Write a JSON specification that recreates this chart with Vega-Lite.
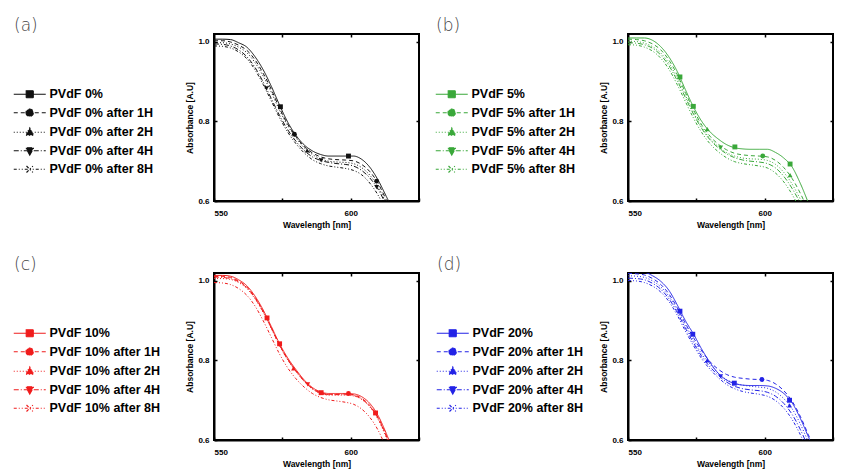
{
  "$schema": "https://vega.github.io/schema/vega-lite/v6.json",
  "padding": {"left": 13, "top": 16, "right": 4, "bottom": 4},
  "background": "white",
  "columns": 2,
  "spacing": {"row": 25, "column": 14},
  "datasets": {
    "a": [
      {"x":550,"0%":1.007,"1H":1.003,"2H":0.998,"4H":0.995,"8H":0.990},
      {"x":553,"0%":1.007,"1H":1.003,"2H":0.998,"4H":0.994,"8H":0.989},
      {"x":556,"0%":1.006,"1H":1.000,"2H":0.995,"4H":0.990,"8H":0.985},
      {"x":559,"0%":0.998,"1H":0.992,"2H":0.987,"4H":0.980,"8H":0.975},
      {"x":562,"0%":0.987,"1H":0.979,"2H":0.973,"4H":0.963,"8H":0.958},
      {"x":565,"0%":0.963,"1H":0.955,"2H":0.948,"4H":0.936,"8H":0.930},
      {"x":568,"0%":0.930,"1H":0.921,"2H":0.914,"4H":0.899,"8H":0.893},
      {"x":571,"0%":0.888,"1H":0.880,"2H":0.873,"4H":0.857,"8H":0.851},
      {"x":574,"0%":0.841,"1H":0.833,"2H":0.828,"4H":0.815,"8H":0.809},
      {"x":577,"0%":0.798,"1H":0.793,"2H":0.789,"4H":0.779,"8H":0.773},
      {"x":580,"0%":0.765,"1H":0.762,"2H":0.759,"4H":0.750,"8H":0.744},
      {"x":583,"0%":0.741,"1H":0.737,"2H":0.734,"4H":0.727,"8H":0.721},
      {"x":586,"0%":0.726,"1H":0.721,"2H":0.717,"4H":0.711,"8H":0.704},
      {"x":589,"0%":0.717,"1H":0.711,"2H":0.706,"4H":0.702,"8H":0.694},
      {"x":592,"0%":0.713,"1H":0.706,"2H":0.700,"4H":0.697,"8H":0.688},
      {"x":595,"0%":0.713,"1H":0.704,"2H":0.698,"4H":0.694,"8H":0.685},
      {"x":598,"0%":0.713,"1H":0.703,"2H":0.697,"4H":0.692,"8H":0.682},
      {"x":601,"0%":0.713,"1H":0.701,"2H":0.694,"4H":0.688,"8H":0.677},
      {"x":604,"0%":0.705,"1H":0.692,"2H":0.684,"4H":0.677,"8H":0.666},
      {"x":607,"0%":0.685,"1H":0.674,"2H":0.665,"4H":0.658,"8H":0.645},
      {"x":610,"0%":0.653,"1H":0.645,"2H":0.636,"4H":0.630,"8H":0.615},
      {"x":613,"0%":0.612,"1H":0.603,"2H":0.595,"4H":0.590,"8H":0.575},
      {"x":616,"0%":0.570,"1H":0.560,"2H":0.550,"4H":0.545,"8H":0.530}
    ],
    "am": [
      {"x":569.2,"y":0.883,"k":"4H"},
      {"x":574.3,"y":0.837,"k":"0%"},
      {"x":579.4,"y":0.768,"k":"1H"},
      {"x":584.1,"y":0.727,"k":"2H"},
      {"x":589.2,"y":0.702,"k":"4H"},
      {"x":599.2,"y":0.713,"k":"0%"},
      {"x":609.5,"y":0.650,"k":"1H"},
      {"x":609.5,"y":0.635,"k":"4H"}
    ],
    "b": [
      {"x":550,"0%":1.010,"1H":1.007,"2H":1.002,"4H":0.998,"8H":0.993},
      {"x":553,"0%":1.010,"1H":1.006,"2H":1.001,"4H":0.997,"8H":0.992},
      {"x":556,"0%":1.010,"1H":1.003,"2H":0.997,"4H":0.993,"8H":0.987},
      {"x":559,"0%":1.004,"1H":0.995,"2H":0.988,"4H":0.984,"8H":0.977},
      {"x":562,"0%":0.988,"1H":0.980,"2H":0.972,"4H":0.967,"8H":0.959},
      {"x":565,"0%":0.962,"1H":0.954,"2H":0.946,"4H":0.940,"8H":0.931},
      {"x":568,"0%":0.926,"1H":0.918,"2H":0.910,"4H":0.903,"8H":0.893},
      {"x":571,"0%":0.880,"1H":0.873,"2H":0.866,"4H":0.860,"8H":0.850},
      {"x":574,"0%":0.836,"1H":0.829,"2H":0.822,"4H":0.818,"8H":0.808},
      {"x":577,"0%":0.800,"1H":0.791,"2H":0.785,"4H":0.782,"8H":0.772},
      {"x":580,"0%":0.774,"1H":0.763,"2H":0.757,"4H":0.754,"8H":0.744},
      {"x":583,"0%":0.756,"1H":0.743,"2H":0.737,"4H":0.734,"8H":0.724},
      {"x":586,"0%":0.742,"1H":0.729,"2H":0.722,"4H":0.719,"8H":0.709},
      {"x":589,"0%":0.734,"1H":0.720,"2H":0.713,"4H":0.709,"8H":0.699},
      {"x":592,"0%":0.731,"1H":0.716,"2H":0.708,"4H":0.703,"8H":0.694},
      {"x":595,"0%":0.730,"1H":0.714,"2H":0.706,"4H":0.700,"8H":0.691},
      {"x":598,"0%":0.730,"1H":0.713,"2H":0.705,"4H":0.698,"8H":0.688},
      {"x":601,"0%":0.730,"1H":0.711,"2H":0.702,"4H":0.694,"8H":0.683},
      {"x":604,"0%":0.722,"1H":0.702,"2H":0.692,"4H":0.683,"8H":0.670},
      {"x":607,"0%":0.708,"1H":0.684,"2H":0.672,"4H":0.662,"8H":0.648},
      {"x":610,"0%":0.686,"1H":0.657,"2H":0.643,"4H":0.632,"8H":0.617},
      {"x":613,"0%":0.645,"1H":0.620,"2H":0.605,"4H":0.595,"8H":0.578},
      {"x":616,"0%":0.595,"1H":0.575,"2H":0.560,"4H":0.550,"8H":0.535}
    ],
    "bm": [
      {"x":569.0,"y":0.912,"k":"0%"},
      {"x":573.9,"y":0.838,"k":"0%"},
      {"x":579.0,"y":0.781,"k":"2H"},
      {"x":583.9,"y":0.734,"k":"4H"},
      {"x":589.1,"y":0.736,"k":"0%"},
      {"x":599.3,"y":0.713,"k":"1H"},
      {"x":609.3,"y":0.693,"k":"0%"},
      {"x":609.3,"y":0.665,"k":"2H"}
    ],
    "c": [
      {"x":550,"0%":1.014,"1H":1.011,"2H":1.006,"4H":1.010,"8H":0.996},
      {"x":553,"0%":1.014,"1H":1.011,"2H":1.006,"4H":1.009,"8H":0.995},
      {"x":556,"0%":1.012,"1H":1.009,"2H":1.004,"4H":1.006,"8H":0.991},
      {"x":559,"0%":1.003,"1H":1.000,"2H":0.996,"4H":0.998,"8H":0.981},
      {"x":562,"0%":0.988,"1H":0.985,"2H":0.981,"4H":0.983,"8H":0.964},
      {"x":565,"0%":0.962,"1H":0.959,"2H":0.955,"4H":0.957,"8H":0.937},
      {"x":568,"0%":0.927,"1H":0.924,"2H":0.921,"4H":0.922,"8H":0.900},
      {"x":571,"0%":0.885,"1H":0.882,"2H":0.880,"4H":0.881,"8H":0.858},
      {"x":574,"0%":0.842,"1H":0.839,"2H":0.837,"4H":0.838,"8H":0.816},
      {"x":577,"0%":0.806,"1H":0.803,"2H":0.801,"4H":0.802,"8H":0.781},
      {"x":580,"0%":0.777,"1H":0.774,"2H":0.772,"4H":0.773,"8H":0.754},
      {"x":583,"0%":0.751,"1H":0.749,"2H":0.747,"4H":0.748,"8H":0.733},
      {"x":586,"0%":0.732,"1H":0.730,"2H":0.728,"4H":0.729,"8H":0.717},
      {"x":589,"0%":0.721,"1H":0.719,"2H":0.717,"4H":0.718,"8H":0.707},
      {"x":592,"0%":0.717,"1H":0.715,"2H":0.713,"4H":0.714,"8H":0.701},
      {"x":595,"0%":0.717,"1H":0.715,"2H":0.713,"4H":0.714,"8H":0.698},
      {"x":598,"0%":0.717,"1H":0.716,"2H":0.713,"4H":0.714,"8H":0.695},
      {"x":601,"0%":0.716,"1H":0.714,"2H":0.711,"4H":0.712,"8H":0.690},
      {"x":604,"0%":0.709,"1H":0.705,"2H":0.702,"4H":0.703,"8H":0.678},
      {"x":607,"0%":0.692,"1H":0.687,"2H":0.683,"4H":0.685,"8H":0.657},
      {"x":610,"0%":0.662,"1H":0.657,"2H":0.652,"4H":0.655,"8H":0.625},
      {"x":613,"0%":0.617,"1H":0.612,"2H":0.607,"4H":0.610,"8H":0.580},
      {"x":616,"0%":0.565,"1H":0.560,"2H":0.555,"4H":0.558,"8H":0.530}
    ],
    "cm": [
      {"x":569.4,"y":0.907,"k":"0%"},
      {"x":574.0,"y":0.842,"k":"0%"},
      {"x":579.1,"y":0.780,"k":"2H"},
      {"x":584.3,"y":0.740,"k":"4H"},
      {"x":589.2,"y":0.719,"k":"0%"},
      {"x":599.2,"y":0.717,"k":"1H"},
      {"x":609.1,"y":0.668,"k":"0%"}
    ],
    "d": [
      {"x":550,"0%":1.024,"1H":1.019,"2H":1.013,"4H":1.007,"8H":1.001},
      {"x":553,"0%":1.024,"1H":1.018,"2H":1.012,"4H":1.006,"8H":1.000},
      {"x":556,"0%":1.022,"1H":1.015,"2H":1.009,"4H":1.003,"8H":0.996},
      {"x":559,"0%":1.013,"1H":1.006,"2H":1.000,"4H":0.994,"8H":0.987},
      {"x":562,"0%":0.999,"1H":0.991,"2H":0.985,"4H":0.979,"8H":0.972},
      {"x":565,"0%":0.976,"1H":0.967,"2H":0.961,"4H":0.955,"8H":0.948},
      {"x":568,"0%":0.940,"1H":0.933,"2H":0.927,"4H":0.921,"8H":0.914},
      {"x":571,"0%":0.900,"1H":0.893,"2H":0.887,"4H":0.881,"8H":0.874},
      {"x":574,"0%":0.866,"1H":0.857,"2H":0.850,"4H":0.844,"8H":0.837},
      {"x":577,"0%":0.828,"1H":0.824,"2H":0.816,"4H":0.810,"8H":0.804},
      {"x":580,"0%":0.795,"1H":0.797,"2H":0.791,"4H":0.784,"8H":0.778},
      {"x":583,"0%":0.768,"1H":0.778,"2H":0.768,"4H":0.763,"8H":0.757},
      {"x":586,"0%":0.751,"1H":0.765,"2H":0.752,"4H":0.746,"8H":0.740},
      {"x":589,"0%":0.742,"1H":0.758,"2H":0.743,"4H":0.735,"8H":0.729},
      {"x":592,"0%":0.738,"1H":0.755,"2H":0.738,"4H":0.729,"8H":0.722},
      {"x":595,"0%":0.737,"1H":0.753,"2H":0.735,"4H":0.726,"8H":0.718},
      {"x":598,"0%":0.737,"1H":0.752,"2H":0.733,"4H":0.724,"8H":0.715},
      {"x":601,"0%":0.736,"1H":0.750,"2H":0.730,"4H":0.720,"8H":0.710},
      {"x":604,"0%":0.730,"1H":0.741,"2H":0.721,"4H":0.710,"8H":0.699},
      {"x":607,"0%":0.717,"1H":0.724,"2H":0.704,"4H":0.692,"8H":0.680},
      {"x":610,"0%":0.694,"1H":0.698,"2H":0.679,"4H":0.665,"8H":0.652},
      {"x":613,"0%":0.655,"1H":0.660,"2H":0.641,"4H":0.627,"8H":0.614},
      {"x":616,"0%":0.608,"1H":0.613,"2H":0.595,"4H":0.581,"8H":0.568},
      {"x":619,"0%":0.560,"1H":0.565,"2H":0.550,"4H":0.535,"8H":0.520}
    ],
    "dm": [
      {"x":569.0,"y":0.924,"k":"0%"},
      {"x":573.7,"y":0.866,"k":"0%"},
      {"x":579.0,"y":0.800,"k":"2H"},
      {"x":583.9,"y":0.760,"k":"4H"},
      {"x":588.9,"y":0.743,"k":"0%"},
      {"x":599.0,"y":0.752,"k":"1H"},
      {"x":609.1,"y":0.700,"k":"0%"},
      {"x":609.1,"y":0.687,"k":"2H"}
    ]
  },
  "concat": [
    {
      "title": {"text": "(a)"},
      "width": 205, "height": 167,
      "layer": [
        {"data": {"name": "a"},
         "transform": [{"fold": ["0%","1H","2H","4H","8H"], "as": ["k","y"]}],
         "mark": {"type": "line", "clip": true, "strokeWidth": 1, "color": "#111", "interpolate": "monotone"},
         "encoding": {
           "x": {"field": "x", "type": "quantitative", "scale": {"domain": [550,625]}, "axis": {"values": [550,575,600,625], "labelExpr": "datum.value % 50 == 0 ? datum.label : ''", "title": "Wavelength [nm]"}},
           "y": {"field": "y", "type": "quantitative", "scale": {"domain": [0.6,1.02]}, "axis": {"values": [0.6,0.8,1.0], "format": ".1f", "title": "Absorbance [A.U]"}},
           "strokeDash": {"field": "k", "type": "nominal", "scale": {"domain": ["0%","1H","2H","4H","8H"], "range": [[1,0],[4,3],[1,2],[5,2,1,2],[3,2,1,2,1,2]]}, "legend": null}
         }},
        {"data": {"name": "am"},
         "mark": {"type": "point", "filled": true, "color": "#111", "size": 24, "opacity": 1, "clip": true},
         "encoding": {
           "x": {"field": "x", "type": "quantitative", "scale": {"domain": [550,625]}, "axis": {"orient": "top", "values": [575,600], "labels": false, "title": null, "domain": false}},
           "y": {"field": "y", "type": "quantitative", "scale": {"domain": [0.6,1.02]}, "axis": {"orient": "right", "values": [0.8,1.0], "labels": false, "title": null, "domain": false}},
           "shape": {"field": "k", "type": "nominal", "scale": {"domain": ["0%","1H","2H","4H","8H"], "range": ["square","circle","triangle-up","triangle-down","cross"]}, "legend": null}
         }},
        {"data": {"name": "am"},
         "mark": {"type": "point", "filled": false, "color": "#111", "fill": "#111", "strokeWidth": 1.2, "opacity": 0},
         "encoding": {
           "x": {"field": "x", "type": "quantitative", "scale": {"domain": [550,625]}, "axis": null},
           "y": {"field": "y", "type": "quantitative", "scale": {"domain": [0.6,1.02]}, "axis": null},
           "shape": {"field": "k", "type": "nominal", "scale": {"domain": ["0%","1H","2H","4H","8H"], "range": ["M-3.2,0H3.2M-0.7,-0.7H0.7V0.7H-0.7Z","M-3.2,0H3.2M-0.75,0A0.75,0.75 0 1,0 0.75,0A0.75,0.75 0 1,0 -0.75,0Z","M-3.2,0H3.2M0,-0.85L0.8,0.6H-0.8Z","M-3.2,0H3.2M0,0.85L0.8,-0.6H-0.8Z","M-3.2,0H3.2M-0.65,-0.65L0.65,0.65M-0.65,0.65L0.65,-0.65"]},
             "legend": {"title": " ", "orient": "left", "offset": 31, "encode": {"symbols": {"stroke": {"value": "#111"}, "fill": {"value": "#111"}, "strokeWidth": {"value": 1.2}}}, "labelExpr": "datum.label == '0%' ? 'PVdF 0%' : 'PVdF 0% after ' + datum.label"}},
           "strokeDash": {"field": "k", "type": "nominal", "scale": {"domain": ["0%","1H","2H","4H","8H"], "range": [[1,0],[4,3],[1,2],[5,2,1,2],[3,2,1,2,1,2]]},
             "legend": {"title": " ", "orient": "left", "offset": 31, "encode": {"symbols": {"stroke": {"value": "#111"}, "fill": {"value": "#111"}, "strokeWidth": {"value": 1.2}}}, "labelExpr": "datum.label == '0%' ? 'PVdF 0%' : 'PVdF 0% after ' + datum.label"}}
         }}
      ],
      "resolve": {"scale": {"shape": "independent", "strokeDash": "independent"}, "axis": {"x": "independent", "y": "independent"}}
    },
    {
      "title": {"text": "(b)"},
      "width": 205, "height": 167,
      "layer": [
        {"data": {"name": "b"},
         "transform": [{"fold": ["0%","1H","2H","4H","8H"], "as": ["k","y"]}],
         "mark": {"type": "line", "clip": true, "strokeWidth": 1, "color": "#3aa83a", "interpolate": "monotone"},
         "encoding": {
           "x": {"field": "x", "type": "quantitative", "scale": {"domain": [550,625]}, "axis": {"values": [550,575,600,625], "labelExpr": "datum.value % 50 == 0 ? datum.label : ''", "title": "Wavelength [nm]"}},
           "y": {"field": "y", "type": "quantitative", "scale": {"domain": [0.6,1.02]}, "axis": {"values": [0.6,0.8,1.0], "format": ".1f", "title": "Absorbance [A.U]"}},
           "strokeDash": {"field": "k", "type": "nominal", "scale": {"domain": ["0%","1H","2H","4H","8H"], "range": [[1,0],[4,3],[1,2],[5,2,1,2],[3,2,1,2,1,2]]}, "legend": null}
         }},
        {"data": {"name": "bm"},
         "mark": {"type": "point", "filled": true, "color": "#3aa83a", "size": 24, "opacity": 1, "clip": true},
         "encoding": {
           "x": {"field": "x", "type": "quantitative", "scale": {"domain": [550,625]}, "axis": {"orient": "top", "values": [575,600], "labels": false, "title": null, "domain": false}},
           "y": {"field": "y", "type": "quantitative", "scale": {"domain": [0.6,1.02]}, "axis": {"orient": "right", "values": [0.8,1.0], "labels": false, "title": null, "domain": false}},
           "shape": {"field": "k", "type": "nominal", "scale": {"domain": ["0%","1H","2H","4H","8H"], "range": ["square","circle","triangle-up","triangle-down","cross"]}, "legend": null}
         }},
        {"data": {"name": "bm"},
         "mark": {"type": "point", "filled": false, "color": "#3aa83a", "fill": "#3aa83a", "strokeWidth": 1.2, "opacity": 0},
         "encoding": {
           "x": {"field": "x", "type": "quantitative", "scale": {"domain": [550,625]}, "axis": null},
           "y": {"field": "y", "type": "quantitative", "scale": {"domain": [0.6,1.02]}, "axis": null},
           "shape": {"field": "k", "type": "nominal", "scale": {"domain": ["0%","1H","2H","4H","8H"], "range": ["M-3.2,0H3.2M-0.7,-0.7H0.7V0.7H-0.7Z","M-3.2,0H3.2M-0.75,0A0.75,0.75 0 1,0 0.75,0A0.75,0.75 0 1,0 -0.75,0Z","M-3.2,0H3.2M0,-0.85L0.8,0.6H-0.8Z","M-3.2,0H3.2M0,0.85L0.8,-0.6H-0.8Z","M-3.2,0H3.2M-0.65,-0.65L0.65,0.65M-0.65,0.65L0.65,-0.65"]},
             "legend": {"title": " ", "orient": "left", "offset": 23, "encode": {"symbols": {"stroke": {"value": "#3aa83a"}, "fill": {"value": "#3aa83a"}, "strokeWidth": {"value": 1.2}}}, "labelExpr": "datum.label == '0%' ? 'PVdF 5%' : 'PVdF 5% after ' + datum.label"}},
           "strokeDash": {"field": "k", "type": "nominal", "scale": {"domain": ["0%","1H","2H","4H","8H"], "range": [[1,0],[4,3],[1,2],[5,2,1,2],[3,2,1,2,1,2]]},
             "legend": {"title": " ", "orient": "left", "offset": 23, "encode": {"symbols": {"stroke": {"value": "#3aa83a"}, "fill": {"value": "#3aa83a"}, "strokeWidth": {"value": 1.2}}}, "labelExpr": "datum.label == '0%' ? 'PVdF 5%' : 'PVdF 5% after ' + datum.label"}}
         }}
      ],
      "resolve": {"scale": {"shape": "independent", "strokeDash": "independent"}, "axis": {"x": "independent", "y": "independent"}}
    },
    {
      "title": {"text": "(c)"},
      "width": 205, "height": 167,
      "layer": [
        {"data": {"name": "c"},
         "transform": [{"fold": ["0%","1H","2H","4H","8H"], "as": ["k","y"]}],
         "mark": {"type": "line", "clip": true, "strokeWidth": 1, "color": "#f01c1c", "interpolate": "monotone"},
         "encoding": {
           "x": {"field": "x", "type": "quantitative", "scale": {"domain": [550,625]}, "axis": {"values": [550,575,600,625], "labelExpr": "datum.value % 50 == 0 ? datum.label : ''", "title": "Wavelength [nm]"}},
           "y": {"field": "y", "type": "quantitative", "scale": {"domain": [0.6,1.02]}, "axis": {"values": [0.6,0.8,1.0], "format": ".1f", "title": "Absorbance [A.U]"}},
           "strokeDash": {"field": "k", "type": "nominal", "scale": {"domain": ["0%","1H","2H","4H","8H"], "range": [[1,0],[4,3],[1,2],[5,2,1,2],[3,2,1,2,1,2]]}, "legend": null}
         }},
        {"data": {"name": "cm"},
         "mark": {"type": "point", "filled": true, "color": "#f01c1c", "size": 24, "opacity": 1, "clip": true},
         "encoding": {
           "x": {"field": "x", "type": "quantitative", "scale": {"domain": [550,625]}, "axis": {"orient": "top", "values": [575,600], "labels": false, "title": null, "domain": false}},
           "y": {"field": "y", "type": "quantitative", "scale": {"domain": [0.6,1.02]}, "axis": {"orient": "right", "values": [0.8,1.0], "labels": false, "title": null, "domain": false}},
           "shape": {"field": "k", "type": "nominal", "scale": {"domain": ["0%","1H","2H","4H","8H"], "range": ["square","circle","triangle-up","triangle-down","cross"]}, "legend": null}
         }},
        {"data": {"name": "cm"},
         "mark": {"type": "point", "filled": false, "color": "#f01c1c", "fill": "#f01c1c", "strokeWidth": 1.2, "opacity": 0},
         "encoding": {
           "x": {"field": "x", "type": "quantitative", "scale": {"domain": [550,625]}, "axis": null},
           "y": {"field": "y", "type": "quantitative", "scale": {"domain": [0.6,1.02]}, "axis": null},
           "shape": {"field": "k", "type": "nominal", "scale": {"domain": ["0%","1H","2H","4H","8H"], "range": ["M-3.2,0H3.2M-0.7,-0.7H0.7V0.7H-0.7Z","M-3.2,0H3.2M-0.75,0A0.75,0.75 0 1,0 0.75,0A0.75,0.75 0 1,0 -0.75,0Z","M-3.2,0H3.2M0,-0.85L0.8,0.6H-0.8Z","M-3.2,0H3.2M0,0.85L0.8,-0.6H-0.8Z","M-3.2,0H3.2M-0.65,-0.65L0.65,0.65M-0.65,0.65L0.65,-0.65"]},
             "legend": {"title": " ", "orient": "left", "offset": 25, "encode": {"symbols": {"stroke": {"value": "#f01c1c"}, "fill": {"value": "#f01c1c"}, "strokeWidth": {"value": 1.2}}}, "labelExpr": "datum.label == '0%' ? 'PVdF 10%' : 'PVdF 10% after ' + datum.label"}},
           "strokeDash": {"field": "k", "type": "nominal", "scale": {"domain": ["0%","1H","2H","4H","8H"], "range": [[1,0],[4,3],[1,2],[5,2,1,2],[3,2,1,2,1,2]]},
             "legend": {"title": " ", "orient": "left", "offset": 25, "encode": {"symbols": {"stroke": {"value": "#f01c1c"}, "fill": {"value": "#f01c1c"}, "strokeWidth": {"value": 1.2}}}, "labelExpr": "datum.label == '0%' ? 'PVdF 10%' : 'PVdF 10% after ' + datum.label"}}
         }}
      ],
      "resolve": {"scale": {"shape": "independent", "strokeDash": "independent"}, "axis": {"x": "independent", "y": "independent"}}
    },
    {
      "title": {"text": "(d)"},
      "width": 205, "height": 167,
      "layer": [
        {"data": {"name": "d"},
         "transform": [{"fold": ["0%","1H","2H","4H","8H"], "as": ["k","y"]}],
         "mark": {"type": "line", "clip": true, "strokeWidth": 1, "color": "#2323e6", "interpolate": "monotone"},
         "encoding": {
           "x": {"field": "x", "type": "quantitative", "scale": {"domain": [550,625]}, "axis": {"values": [550,575,600,625], "labelExpr": "datum.value % 50 == 0 ? datum.label : ''", "title": "Wavelength [nm]"}},
           "y": {"field": "y", "type": "quantitative", "scale": {"domain": [0.6,1.02]}, "axis": {"values": [0.6,0.8,1.0], "format": ".1f", "title": "Absorbance [A.U]"}},
           "strokeDash": {"field": "k", "type": "nominal", "scale": {"domain": ["0%","1H","2H","4H","8H"], "range": [[1,0],[4,3],[1,2],[5,2,1,2],[3,2,1,2,1,2]]}, "legend": null}
         }},
        {"data": {"name": "dm"},
         "mark": {"type": "point", "filled": true, "color": "#2323e6", "size": 24, "opacity": 1, "clip": true},
         "encoding": {
           "x": {"field": "x", "type": "quantitative", "scale": {"domain": [550,625]}, "axis": {"orient": "top", "values": [575,600], "labels": false, "title": null, "domain": false}},
           "y": {"field": "y", "type": "quantitative", "scale": {"domain": [0.6,1.02]}, "axis": {"orient": "right", "values": [0.8,1.0], "labels": false, "title": null, "domain": false}},
           "shape": {"field": "k", "type": "nominal", "scale": {"domain": ["0%","1H","2H","4H","8H"], "range": ["square","circle","triangle-up","triangle-down","cross"]}, "legend": null}
         }},
        {"data": {"name": "dm"},
         "mark": {"type": "point", "filled": false, "color": "#2323e6", "fill": "#2323e6", "strokeWidth": 1.2, "opacity": 0},
         "encoding": {
           "x": {"field": "x", "type": "quantitative", "scale": {"domain": [550,625]}, "axis": null},
           "y": {"field": "y", "type": "quantitative", "scale": {"domain": [0.6,1.02]}, "axis": null},
           "shape": {"field": "k", "type": "nominal", "scale": {"domain": ["0%","1H","2H","4H","8H"], "range": ["M-3.2,0H3.2M-0.7,-0.7H0.7V0.7H-0.7Z","M-3.2,0H3.2M-0.75,0A0.75,0.75 0 1,0 0.75,0A0.75,0.75 0 1,0 -0.75,0Z","M-3.2,0H3.2M0,-0.85L0.8,0.6H-0.8Z","M-3.2,0H3.2M0,0.85L0.8,-0.6H-0.8Z","M-3.2,0H3.2M-0.65,-0.65L0.65,0.65M-0.65,0.65L0.65,-0.65"]},
             "legend": {"title": " ", "orient": "left", "offset": 16, "encode": {"symbols": {"stroke": {"value": "#2323e6"}, "fill": {"value": "#2323e6"}, "strokeWidth": {"value": 1.2}}}, "labelExpr": "datum.label == '0%' ? 'PVdF 20%' : 'PVdF 20% after ' + datum.label"}},
           "strokeDash": {"field": "k", "type": "nominal", "scale": {"domain": ["0%","1H","2H","4H","8H"], "range": [[1,0],[4,3],[1,2],[5,2,1,2],[3,2,1,2,1,2]]},
             "legend": {"title": " ", "orient": "left", "offset": 16, "encode": {"symbols": {"stroke": {"value": "#2323e6"}, "fill": {"value": "#2323e6"}, "strokeWidth": {"value": 1.2}}}, "labelExpr": "datum.label == '0%' ? 'PVdF 20%' : 'PVdF 20% after ' + datum.label"}}
         }}
      ],
      "resolve": {"scale": {"shape": "independent", "strokeDash": "independent"}, "axis": {"x": "independent", "y": "independent"}}
    }
  ],
  "config": {
    "view": {"stroke": "#000", "strokeWidth": 2},
    "title": {"anchor": "start", "frame": "bounds", "font": "DejaVu Sans", "fontWeight": 200, "fontSize": 17, "color": "#444", "offset": -2},
    "axis": {"grid": false, "domainColor": "#000", "domainWidth": 2, "tickColor": "#000", "tickWidth": 1.5, "tickSize": -3, "labelFont": "Liberation Sans", "labelFontWeight": "bold", "labelFontSize": 8, "labelColor": "#000", "titleFont": "Liberation Sans", "titleFontWeight": "bold", "titleFontSize": 8.5, "titleColor": "#000"},
    "axisX": {"labelPadding": 11, "titlePadding": 3},
    "axisY": {"labelPadding": 8, "titlePadding": 3},
    "legend": {"layout": {"left": {"anchor": "middle"}}, "symbolSize": 100, "symbolOffset": 9.5, "symbolStrokeWidth": 1.2, "symbolOpacity": 1, "labelFont": "Liberation Sans", "labelFontWeight": "bold", "labelFontSize": 12.5, "labelColor": "#000", "labelOffset": 13.5, "labelLimit": 300, "rowPadding": 5.5, "titleFontSize": 10, "titlePadding": 18}
  }
}
